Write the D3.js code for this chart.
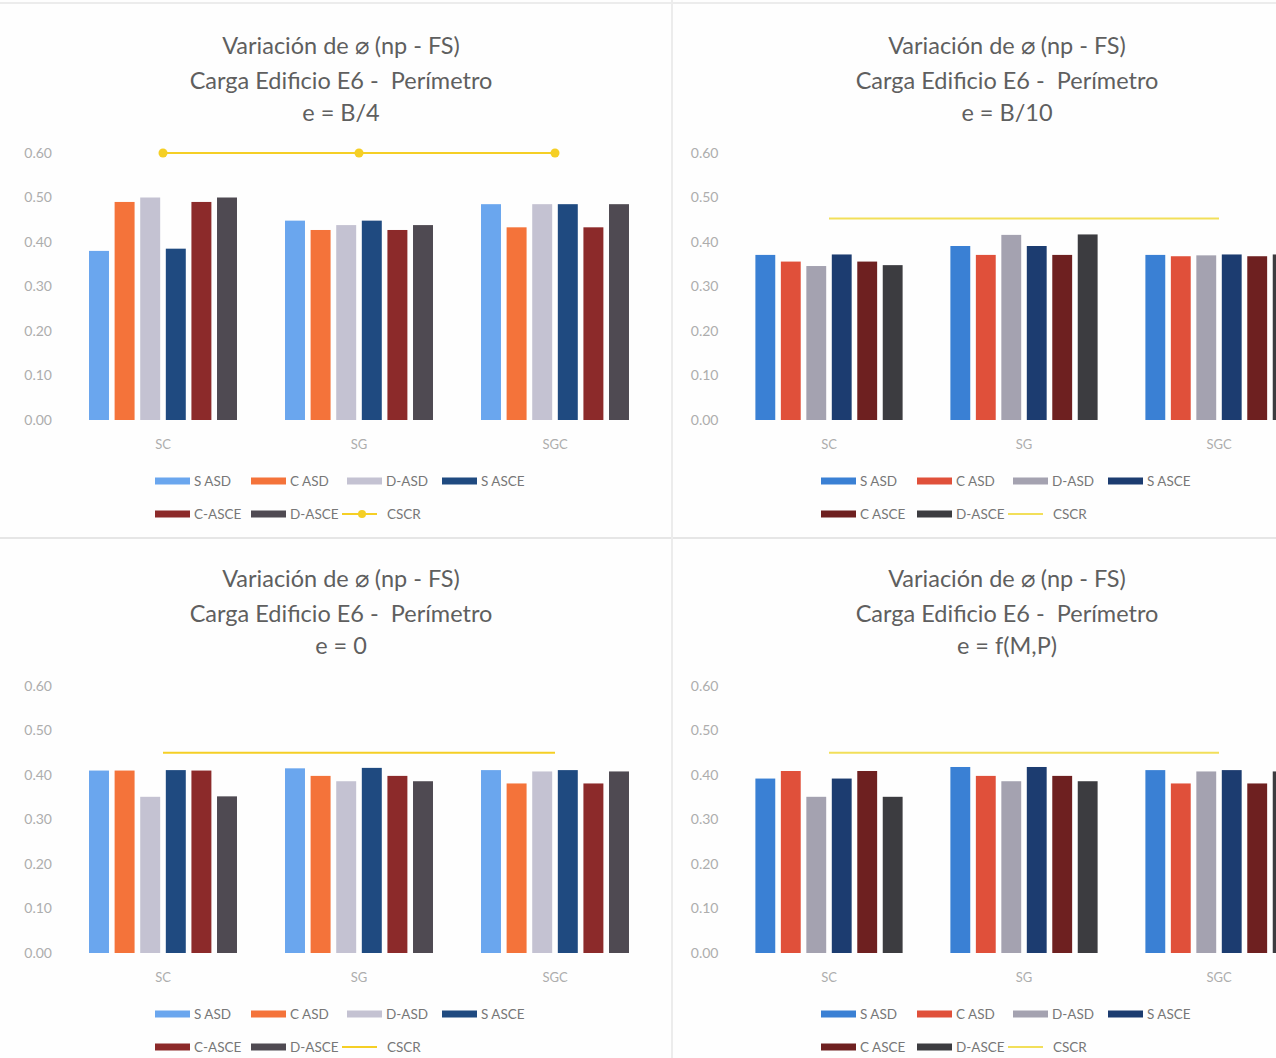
<!DOCTYPE html>
<html>
<head>
<meta charset="utf-8">
<script src="https://cdn.jsdelivr.net/npm/d3@7"></script>
<style>
  html, body { margin: 0; padding: 0; background: #fefefe; }
  svg { display: block; }
  text { font-family: Lato, "Open Sans", sans-serif; }
  text.title { white-space: pre; }
</style>
</head>
<body>
<svg id="chart" width="1276" height="1058"></svg>
<script>
// Categories and tick values shared by the four panels
const categories = ["SC", "SG", "SGC"];
const yTicks = [0, 0.1, 0.2, 0.3, 0.4, 0.5, 0.6];

// Series names (legend text differs slightly between the two sheet styles)
const seriesNamesLeft  = ["S ASD", "C ASD", "D-ASD", "S ASCE", "C-ASCE", "D-ASCE", "CSCR"];
const seriesNamesRight = ["S ASD", "C ASD", "D-ASD", "S ASCE", "C ASCE", "D-ASCE", "CSCR"];

// Bar values per category: [S ASD, C ASD, D-ASD, S ASCE, C ASCE, D-ASCE]
const valuesB4 = [
  [0.38, 0.49, 0.50, 0.385, 0.49, 0.50],
  [0.448, 0.427, 0.438, 0.448, 0.427, 0.438],
  [0.485, 0.433, 0.485, 0.485, 0.433, 0.485]
];
const valuesB10 = [
  [0.371, 0.356, 0.346, 0.372, 0.356, 0.348],
  [0.391, 0.371, 0.416, 0.391, 0.371, 0.417],
  [0.371, 0.368, 0.370, 0.372, 0.368, 0.372]
];
const valuesE0 = [
  [0.410, 0.410, 0.351, 0.411, 0.410, 0.352],
  [0.415, 0.398, 0.386, 0.416, 0.398, 0.386],
  [0.411, 0.381, 0.408, 0.411, 0.381, 0.408]
];
const valuesFMP = [
  [0.392, 0.409, 0.351, 0.392, 0.409, 0.351],
  [0.418, 0.398, 0.386, 0.418, 0.398, 0.386],
  [0.411, 0.381, 0.408, 0.411, 0.381, 0.408]
];

// CSCR reference line per panel
const cscrB4  = [0.60, 0.60, 0.60];
const cscrB10 = [0.453, 0.453, 0.453];
const cscrE0  = [0.45, 0.45, 0.45];
const cscrFMP = [0.45, 0.45, 0.45];

// Colour sets for the two sheet styles
const coloursLeft  = ["#6aa6ee", "#f4733a", "#c4c2d2", "#1f4a80", "#8c2a2a", "#4f4a52"];
const coloursRight = ["#3a80d4", "#e0503a", "#a4a2b0", "#1c3c70", "#6e2020", "#3c3c40"];
const cscrColourLeft  = "#f5cf25";
const cscrColourRight = "#f2df5a";

const subtitles = ["e = B/4", "e = B/10", "e = 0", "e = f(M,P)"];

const panels = [
  { x: 0,   y: 0,   values: valuesB4,  cscr: cscrB4,  sub: subtitles[0], names: seriesNamesLeft,  colours: coloursLeft,  cscrColour: cscrColourLeft,  markers: true,  width: 588 },
  { x: 666, y: 0,   values: valuesB10, cscr: cscrB10, sub: subtitles[1], names: seriesNamesRight, colours: coloursRight, cscrColour: cscrColourRight, markers: false, width: 585 },
  { x: 0,   y: 533, values: valuesE0,  cscr: cscrE0,  sub: subtitles[2], names: seriesNamesLeft,  colours: coloursLeft,  cscrColour: cscrColourLeft,  markers: false, width: 588 },
  { x: 666, y: 533, values: valuesFMP, cscr: cscrFMP, sub: subtitles[3], names: seriesNamesRight, colours: coloursRight, cscrColour: cscrColourRight, markers: false, width: 585 }
];

const svg = d3.select("#chart");

// Panel frame lines
svg.append("line").attr("x1", 0).attr("x2", 1276).attr("y1", 3).attr("y2", 3)
  .attr("stroke", "#ececec").attr("stroke-width", 2);
svg.append("line").attr("x1", 0).attr("x2", 1276).attr("y1", 538).attr("y2", 538)
  .attr("stroke", "#e6e6e6").attr("stroke-width", 2);
svg.append("line").attr("x1", 672).attr("x2", 672).attr("y1", 0).attr("y2", 1058)
  .attr("stroke", "#ececec").attr("stroke-width", 2);

panels.forEach(p => {
  const g = svg.append("g").attr("transform", `translate(${p.x},${p.y})`);
  const left = 65 + (p.width === 585 ? 0.5 : 0);

  // Titles
  const titleLines = ["Variación de \u2300 (np - FS)", "Carga Edificio E6 -  Perímetro", p.sub];
  const titleX = 341;
  g.selectAll("text.title").data(titleLines).join("text")
    .attr("class", "title")
    .attr("x", titleX)
    .attr("y", (d, i) => 54 + i * 35 - (i === 2 ? 3 : 0))
    .attr("text-anchor", "middle")
    .attr("font-size", 23.5)
    .attr("fill", "#5f5f5f")
    .text(d => d);

  const x0 = d3.scaleBand().domain(categories).range([left, left + p.width])
    .paddingInner(0.245).paddingOuter(0.1225);
  const x1 = d3.scaleBand().domain(d3.range(6)).range([0, x0.bandwidth()])
    .paddingInner(0.22).paddingOuter(0);
  const y = d3.scaleLinear().domain([0, 0.6]).range([420, 153]);

  // Y axis (labels only)
  const yAxis = d3.axisLeft(y).tickValues(yTicks).tickFormat(d3.format(".2f")).tickSize(0).tickPadding(0);
  const ya = g.append("g").attr("transform", `translate(${left - 13},0)`).call(yAxis);
  ya.select(".domain").remove();
  ya.selectAll("text").attr("font-size", 14).attr("fill", "#adadad")
    .style("font-family", "Lato, sans-serif");

  // X axis (category labels only)
  const xAxis = d3.axisBottom(x0).tickSize(0).tickPadding(0);
  const xa = g.append("g").attr("transform", "translate(0,440)").call(xAxis);
  xa.select(".domain").remove();
  xa.selectAll("text").attr("font-size", 13).attr("fill", "#adadad")
    .style("font-family", "Lato, sans-serif");

  // Bars
  const groups = g.selectAll("g.cat").data(p.values).join("g")
    .attr("class", "cat")
    .attr("transform", (d, i) => `translate(${x0(categories[i])},0)`);
  groups.selectAll("rect").data(d => d).join("rect")
    .attr("x", (d, j) => x1(j))
    .attr("width", x1.bandwidth())
    .attr("y", d => y(d))
    .attr("height", d => y(0) - y(d))
    .attr("fill", (d, j) => p.colours[j]);

  // CSCR line
  const line = d3.line()
    .x((d, i) => x0(categories[i]) + x0.bandwidth() / 2)
    .y(d => y(d));
  g.append("path").datum(p.cscr)
    .attr("d", line)
    .attr("fill", "none")
    .attr("stroke", p.cscrColour)
    .attr("stroke-width", 2);
  if (p.markers) {
    g.selectAll("circle.cscr").data(p.cscr).join("circle")
      .attr("class", "cscr")
      .attr("cx", (d, i) => x0(categories[i]) + x0.bandwidth() / 2)
      .attr("cy", d => y(d))
      .attr("r", 4.5)
      .attr("fill", p.cscrColour);
  }

  // Legend
  const legendItems = p.names.map((name, i) => ({ name, i }));
  const legendPos = [
    [155, 481], [251, 481], [347, 481], [442, 481],
    [155, 514], [251, 514], [342, 514]
  ];
  const lg = g.append("g").attr("class", "legend");
  legendItems.forEach(item => {
    const [lx, ly] = legendPos[item.i];
    if (item.i < 6) {
      lg.append("rect").attr("x", lx).attr("y", ly - 3.5).attr("width", 35).attr("height", 7)
        .attr("fill", p.colours[item.i]);
      lg.append("text").attr("x", lx + 39).attr("y", ly + 5)
        .attr("font-size", 13.5).attr("fill", "#777").text(item.name);
    } else {
      lg.append("line").attr("x1", lx).attr("x2", lx + 35).attr("y1", ly).attr("y2", ly)
        .attr("stroke", p.cscrColour).attr("stroke-width", 2);
      if (p.markers) {
        lg.append("circle").attr("cx", lx + 20).attr("cy", ly).attr("r", 4).attr("fill", p.cscrColour);
      }
      lg.append("text").attr("x", lx + 45).attr("y", ly + 5)
        .attr("font-size", 13.5).attr("fill", "#777").text(item.name);
    }
  });
});
</script>
</body>
</html>
